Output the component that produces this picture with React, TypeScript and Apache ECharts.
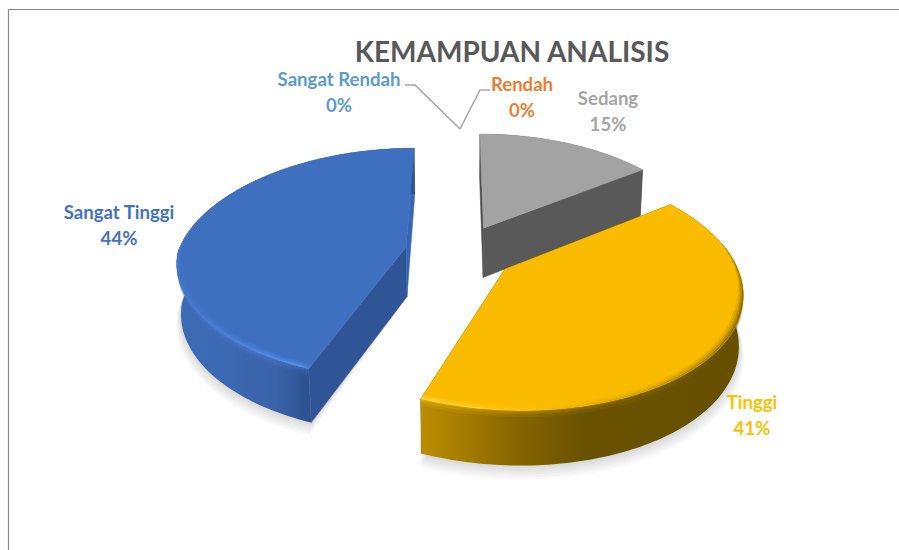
import React, { useEffect, useRef } from "react";
import * as echarts from "echarts";

const titleText = "KEMAMPUAN ANALISIS";
const categories = ["Sangat Rendah", "Rendah", "Sedang", "Tinggi", "Sangat Tinggi"];
const values = [0, 0, 15, 41, 44];
const percentLabels = ["0%", "0%", "15%", "41%", "44%"];
const labelColors = ["#5B9BD5", "#ED7D31", "#A5A5A5", "#FFC000", "#4472C4"];

// label centres and leader lines (layout only)
const labelPos = [[339, 92], [522, 97], [608, 111], [752, 415], [119, 225]];
const leaders: (number[][] | null)[] = [
  [[405, 85], [415, 85], [460, 129]],
  [[490, 90], [480, 90], [460, 129]],
  null,
  null,
  null,
];

const FONT = "Lato, Carlito, Calibri, sans-serif";
const CX = 459.5, CY = 252, S = 228, K = 114.7, H = 50, EXPLODE = 0.24;

type Stops = [number, string][];
const grad = (x0: number, x1: number, stops: Stops) =>
  new echarts.graphic.LinearGradient(x0, 0, x1, 0, stops.map(([offset, color]) => ({ offset, color })), true);

const sliceStyles: any[] = [
  null,
  null,
  { top: "#A3A3A3", radialA: "#4E4E4E", radialB: "#595959", wall: () => "#595959", rim: null, rimWall: null },
  {
    top: "#FBBC00",
    radialA: "#6B5300",
    radialB: "#6B5300",
    wall: () => grad(423, 741, [[0, "#BB8C00"], [0.12, "#A67D00"], [0.3, "#866500"], [0.5, "#6A5200"], [1, "#665000"]]),
    rim: () => grad(423, 741, [[0, "#FFD84A"], [0.2, "#FFCB1E"], [0.5, "#EFB300"], [0.75, "#C99A00"], [1, "#8C6C00"]]),
    rimWall: () => grad(423, 741, [[0, "#DDA810"], [0.3, "#B58900"], [0.6, "#8A6A00"], [1, "#6E5500"]]),
  },
  {
    top: "#3F70C0",
    radialA: "#2F5597",
    radialB: "#3767B4",
    wall: () => grad(176, 311, [[0, "#3B6BB6"], [0.4, "#3C68B2"], [0.75, "#3A63A9"], [0.95, "#2E5390"], [1, "#2E5390"]]),
    rim: () => grad(176, 311, [[0, "#4577C8"], [0.5, "#4F85DC"], [0.9, "#5A92EC"], [1, "#4E82D8"]]),
    rimWall: () => grad(176, 311, [[0, "#4474C4"], [0.6, "#4778CC"], [1, "#3B68B4"]]),
  },
];

function project(x: number, y: number, z: number) {
  // vertical foreshortening, plus a slightly different horizontal one front and back
  const wy = 1 + 0.148 * y;
  const wx = 1 + 0.148 * y + (y > 0 ? 0.03 * y : 0) + 0.015 * z;
  const shear = y < 0 ? -7.5 * y : 0;
  const wz = 1 + 0.08 * y;
  return [CX + (S * x + shear) / wx, CY - (K * y) / wy + (H * z) / wz];
}

function arcPoints(ex: number, ey: number, a0: number, a1: number, radius: (t: number) => number, z: number) {
  const n = Math.max(2, Math.ceil(Math.abs(a1 - a0) / 0.02));
  const pts: number[][] = [];
  for (let i = 0; i <= n; i++) {
    const t = a0 + ((a1 - a0) * i) / n;
    const r = radius(t);
    pts.push(project(ex + r * Math.sin(t), ey + r * Math.cos(t), z));
  }
  return pts;
}

const poly = (points: number[][], style: any) => ({ type: "polygon", shape: { points }, style, silent: true });
// the bevel is full width on the front of the pie and vanishes towards the back
const taper = (t: number) => Math.max(0, Math.min(1, (0.25 - Math.cos(t)) / 0.6));

const rimBands = [
  { outer: 0.024, inner: 0.032, opacity: 0.15 },
  { outer: 0.016, inner: 0.024, opacity: 0.35 },
  { outer: 0.008, inner: 0.016, opacity: 0.65 },
  { outer: 0, inner: 0.008, opacity: 1 },
];
const rimWallBands = [
  { z0: 0.07, z1: 0.12, opacity: 0.25 },
  { z0: 0.03, z1: 0.07, opacity: 0.55 },
  { z0: 0, z1: 0.03, opacity: 0.9 },
];

function renderSlice(params: any, api: any) {
  const i = params.dataIndex;
  const value = api.value(0);
  const total = values.reduce((a, b) => a + b, 0);
  const start = (values.slice(0, i).reduce((a, b) => a + b, 0) / total) * Math.PI * 2;
  const end = start + (value / total) * Math.PI * 2;
  const children: any[] = [];
  const st = sliceStyles[i];

  if (value > 0 && st) {
    const mid = (start + end) / 2;
    const ex = EXPLODE * Math.sin(mid);
    const ey = EXPLODE * Math.cos(mid);
    const apex0 = project(ex, ey, 0);
    const apex1 = project(ex, ey, 1);
    const one = () => 1;
    const top = arcPoints(ex, ey, start, end, one, 0);
    const bottom = arcPoints(ex, ey, start, end, one, 1);

    // soft shadow made of widening translucent copies of the bottom face
    for (let k = 6; k >= 1; k--) {
      children.push(
        poly([apex1, ...arcPoints(ex, ey, start, end, () => 1 + 0.004 * k, 1 + 0.03 * k)], {
          fill: "rgba(0,0,0,0.025)",
        })
      );
    }
    // radial walls
    children.push(poly([apex0, top[0], bottom[0], apex1], { fill: st.radialA, stroke: st.radialA, lineWidth: 0.5 }));
    children.push(
      poly([apex0, top[top.length - 1], bottom[bottom.length - 1], apex1], { fill: st.radialB, stroke: st.radialB, lineWidth: 0.5 })
    );
    // outer wall
    children.push(poly([...top, ...bottom.slice().reverse()], { fill: st.wall() }));
    if (st.rimWall) {
      for (const b of rimWallBands) {
        const upper = arcPoints(ex, ey, start, end, one, b.z0);
        const lower = arcPoints(ex, ey, start, end, one, b.z1);
        children.push(poly([...upper, ...lower.slice().reverse()], { fill: st.rimWall(), opacity: b.opacity }));
      }
    }
    // top face
    children.push(poly([apex0, ...top], { fill: st.top, stroke: st.top, lineWidth: 0.4 }));
    // bevel
    if (st.rim) {
      for (const b of rimBands) {
        const r1 = arcPoints(ex, ey, start, end, (t) => 1 - b.outer * taper(t), 0);
        const r2 = arcPoints(ex, ey, start, end, (t) => 1 - b.inner * taper(t), 0);
        children.push(poly([...r2, ...r1.slice().reverse()], { fill: st.rim(), opacity: b.opacity }));
      }
    }
  }

  const leader = leaders[i];
  if (leader) {
    children.push({
      type: "polyline",
      shape: { points: leader },
      style: { stroke: "#A6A6A6", lineWidth: 1.5, fill: "none" },
      silent: true,
    });
  }
  children.push({
    type: "text",
    silent: true,
    style: {
      text: categories[i] + "\n" + percentLabels[i],
      x: labelPos[i][0],
      y: labelPos[i][1],
      align: "center",
      verticalAlign: "middle",
      fill: labelColors[i],
      fontFamily: FONT,
      fontWeight: "bold",
      fontSize: 18.6,
      lineHeight: 26,
    },
  });
  return { type: "group", children };
}

export default function App() {
  const ref = useRef<HTMLDivElement>(null);
  useEffect(() => {
    const chart = echarts.init(ref.current!, undefined, { renderer: "svg" });
    chart.setOption({
      animation: false,
      backgroundColor: "#ffffff",
      title: {
        text: titleText,
        left: 507,
        top: 32,
        textAlign: "center",
        textStyle: {
          color: "#595959",
          fontFamily: FONT,
          fontWeight: "bold",
          fontSize: 28,
        },
      },
      graphic: [
        { type: "line", silent: true, shape: { x1: 8, y1: 9.5, x2: 899, y2: 9.5 }, style: { stroke: "#8a8a8a", lineWidth: 1.2 } },
        { type: "line", silent: true, shape: { x1: 8.5, y1: 9, x2: 8.5, y2: 550 }, style: { stroke: "#8a8a8a", lineWidth: 1.2 } },
      ],
      series: [
        {
          type: "custom",
          coordinateSystem: "none",
          renderItem: renderSlice,
          data: values.map((v, i) => ({ name: categories[i], value: [v] })),
        },
      ],
    });
    return () => chart.dispose();
  }, []);
  return <div ref={ref} style={{ position: "fixed", left: 0, top: 0, width: 899, height: 550 }} />;
}
